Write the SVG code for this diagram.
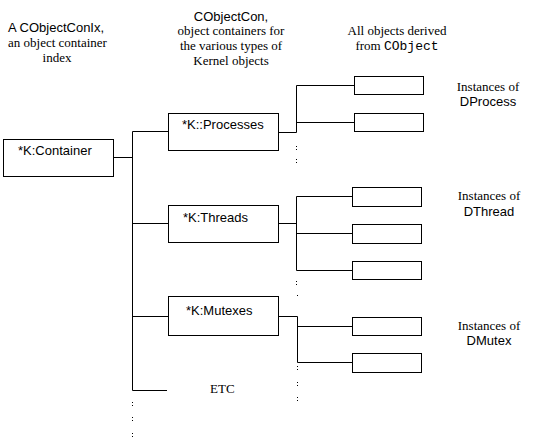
<svg xmlns="http://www.w3.org/2000/svg" width="540" height="447" viewBox="0 0 540 447">
<style>
.box{fill:#fff;stroke:#000;stroke-width:1}
.ln{fill:none;stroke:#000;stroke-width:1}
.dot{fill:none;stroke:#000;stroke-width:1;stroke-dasharray:1 2}
.sans{font-family:"Liberation Sans",Arial,sans-serif;font-size:13px;fill:#000}
.serif{font-family:"Liberation Serif","Times New Roman",serif;font-size:13px;fill:#000}
.mono{font-family:"Liberation Mono","Courier New",monospace;font-size:13px;fill:#000}
</style>
<rect width="540" height="447" fill="#fff"/>
<g id="headers">
<text class="sans" x="8" y="32">A CObjectConIx,</text>
<text class="serif" x="8" y="47">an object container</text>
<text class="serif" x="57" y="62" text-anchor="middle">index</text>
<text class="sans" x="231" y="21" text-anchor="middle">CObjectCon,</text>
<text class="serif" x="231" y="35" text-anchor="middle">object containers for</text>
<text class="serif" x="231" y="50" text-anchor="middle">the various types of</text>
<text class="serif" x="231" y="65" text-anchor="middle">Kernel objects</text>
<text class="serif" x="397" y="35" text-anchor="middle">All objects derived</text>
<text x="397" y="50" text-anchor="middle"><tspan class="serif">from </tspan><tspan class="mono">CObject</tspan></text>
</g>
<g id="connectors">
<path class="ln" d="M113.5 157.5H132.5M132.5 131.5V390.5M132.5 131.5H168M132.5 223.5H168M132.5 316.5H168M132.5 390.5H167"/>
<path class="ln" d="M278 132.5H296.5V85.5H354M296.5 122.5H354"/>
<path class="ln" d="M278 223.5H296.5M296.5 196.5V270.5M296.5 196.5H352M296.5 233.5H352M296.5 270.5H352"/>
<path class="ln" d="M279 316.5H297.5V362.5M297.5 326.5H352M297.5 362.5H352"/>
<path class="dot" d="M296.5 146V150M296.5 159V163M296.5 281V285M297.5 295V297M297.5 366V370M297.5 382V386M297.5 397V401M132.5 402V406M132.5 417V421M132.5 433V437"/>
</g>
<g id="container"><rect class="box" x="3.5" y="139.5" width="110" height="37"/><text class="sans" x="18" y="155">*K:Container</text></g>
<g id="processes"><rect class="box" x="168.5" y="113.5" width="110" height="37"/><text class="sans" x="182" y="129">*K::Processes</text></g>
<g id="threads"><rect class="box" x="168.5" y="205.5" width="110" height="37"/><text class="sans" x="183" y="222">*K:Threads</text></g>
<g id="mutexes"><rect class="box" x="168.5" y="296.5" width="110" height="39"/><text class="sans" x="186" y="315">*K:Mutexes</text></g>
<g id="etc"><text class="serif" x="210" y="393">ETC</text></g>
<g id="proc1"><rect class="box" x="354.5" y="76.5" width="69" height="18"/></g>
<g id="proc2"><rect class="box" x="354.5" y="113.5" width="69" height="18"/></g>
<g id="thr1"><rect class="box" x="352.5" y="187.5" width="69" height="19"/></g>
<g id="thr2"><rect class="box" x="352.5" y="224.5" width="69" height="19"/></g>
<g id="thr3"><rect class="box" x="352.5" y="261.5" width="69" height="18"/></g>
<g id="mut1"><rect class="box" x="352.5" y="317.5" width="69" height="18"/></g>
<g id="mut2"><rect class="box" x="352.5" y="353.5" width="69" height="19"/></g>
<g id="inst-process"><text class="serif" x="488" y="91" text-anchor="middle">Instances of</text><text class="sans" x="488" y="106" text-anchor="middle">DProcess</text></g>
<g id="inst-thread"><text class="serif" x="489" y="200" text-anchor="middle">Instances of</text><text class="sans" x="489" y="216" text-anchor="middle">DThread</text></g>
<g id="inst-mutex"><text class="serif" x="489" y="330" text-anchor="middle">Instances of</text><text class="sans" x="489" y="345" text-anchor="middle">DMutex</text></g>
</svg>
